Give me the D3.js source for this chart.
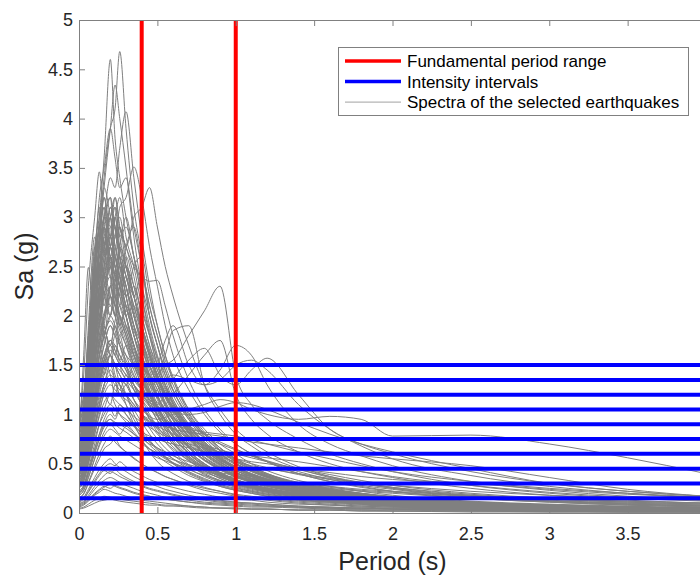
<!DOCTYPE html>
<html>
<head>
<meta charset="utf-8">
<script src="https://cdn.jsdelivr.net/npm/d3@7"></script>
<style>
  html, body { margin: 0; padding: 0; background: #fff; }
  #container { width: 700px; height: 577px; overflow: hidden; }
  text { font-family: "Liberation Sans", Arial, Helvetica, sans-serif; }
</style>
</head>
<body>
<div id="container"></div>
<script>
"use strict";

// periods (s) shared by every spectrum
const periods = [0, 0.03, 0.06, 0.1, 0.13, 0.16, 0.2, 0.23, 0.26, 0.3, 0.35, 0.4, 0.45, 0.5, 0.55,
  0.6, 0.7, 0.8, 0.9, 1.0, 1.1, 1.2, 1.4, 1.6, 1.8, 2.0, 2.5, 3.0, 3.5, 4.0];

// spectra with the highest peaks (Sa in g)
const spectraHigh = [
  [0.9, 1.1, 1.6, 2.4, 3.0, 3.6, 4.6, 3.8, 3.4, 3.0, 2.6, 2.2, 1.8, 1.5, 1.3, 1.1, 0.85, 0.7, 0.6, 0.5, 0.42, 0.36, 0.28, 0.22, 0.18, 0.15, 0.1, 0.07, 0.05, 0.04],
  [1.0, 1.2, 1.7, 2.5, 2.9, 3.4, 3.9, 4.1, 4.68, 3.9, 3.1, 2.6, 2.0, 1.7, 1.4, 1.2, 0.95, 0.8, 0.66, 0.55, 0.47, 0.4, 0.3, 0.24, 0.2, 0.16, 0.11, 0.08, 0.06, 0.05],
  [0.8, 1.0, 1.5, 2.2, 2.8, 3.3, 3.9, 4.34, 4.0, 3.5, 2.8, 2.3, 1.9, 1.6, 1.35, 1.15, 0.9, 0.72, 0.6, 0.5, 0.43, 0.37, 0.29, 0.23, 0.19, 0.16, 0.11, 0.08, 0.06, 0.05],
  [0.85, 1.0, 1.4, 2.0, 2.6, 3.0, 3.4, 3.3, 3.7, 4.07, 3.4, 2.8, 2.3, 1.9, 1.6, 1.35, 1.05, 0.85, 0.7, 0.6, 0.5, 0.43, 0.33, 0.27, 0.22, 0.18, 0.12, 0.09, 0.07, 0.05],
  [0.75, 0.9, 1.3, 1.9, 2.3, 2.7, 3.0, 2.8, 3.1, 3.2, 3.51, 3.2, 2.7, 2.3, 1.9, 1.6, 1.25, 1.0, 0.82, 0.7, 0.6, 0.52, 0.4, 0.32, 0.27, 0.22, 0.15, 0.11, 0.08, 0.06],
  [0.9, 1.4, 2.3, 3.0, 3.46, 2.9, 2.6, 2.4, 2.2, 2.0, 1.7, 1.4, 1.2, 1.0, 0.85, 0.72, 0.55, 0.45, 0.37, 0.3, 0.26, 0.22, 0.17, 0.14, 0.11, 0.09, 0.06, 0.04, 0.03, 0.03],
  [0.7, 0.85, 1.2, 1.7, 2.1, 2.5, 2.8, 2.6, 2.9, 2.7, 3.0, 3.1, 3.3, 2.9, 2.5, 2.2, 1.7, 1.3, 1.05, 0.85, 0.72, 0.62, 0.47, 0.37, 0.3, 0.25, 0.17, 0.12, 0.09, 0.07],
  [0.7, 1.6, 2.49, 1.9, 2.1, 1.8, 1.6, 1.5, 1.3, 1.1, 0.9, 0.75, 0.62, 0.52, 0.45, 0.4, 0.32, 0.26, 0.22, 0.18, 0.16, 0.14, 0.11, 0.09, 0.07, 0.06, 0.04, 0.03, 0.02, 0.02],
  [0.95, 1.2, 1.8, 2.6, 3.2, 3.5, 3.9, 3.6, 3.3, 3.4, 2.9, 2.5, 2.1, 1.8, 1.5, 1.3, 1.0, 0.8, 0.66, 0.55, 0.47, 0.4, 0.31, 0.25, 0.2, 0.17, 0.11, 0.08, 0.06, 0.05]
];

// spectra with peaks of about 2 to 3.3 g
const spectraMid = [
  [0.6, 0.8, 1.3, 2.1, 2.7, 3.2, 2.8, 3.0, 2.6, 2.3, 1.9, 1.6, 1.35, 1.15, 0.98, 0.85, 0.66, 0.53, 0.44, 0.37, 0.32, 0.27, 0.21, 0.17, 0.14, 0.12, 0.08, 0.06, 0.04, 0.03],
  [0.55, 0.7, 1.1, 1.7, 2.2, 2.6, 3.1, 2.9, 2.7, 2.5, 2.2, 1.9, 1.6, 1.4, 1.2, 1.05, 0.82, 0.66, 0.55, 0.46, 0.39, 0.34, 0.26, 0.21, 0.17, 0.14, 0.1, 0.07, 0.05, 0.04],
  [0.7, 0.9, 1.5, 2.3, 2.9, 2.6, 2.8, 3.2, 2.9, 2.7, 2.4, 2.0, 1.7, 1.45, 1.25, 1.1, 0.85, 0.68, 0.56, 0.47, 0.4, 0.35, 0.27, 0.21, 0.17, 0.14, 0.1, 0.07, 0.05, 0.04],
  [0.5, 0.65, 1.0, 1.6, 2.0, 2.4, 2.7, 3.0, 3.2, 2.8, 2.5, 2.1, 1.8, 1.5, 1.3, 1.12, 0.88, 0.71, 0.58, 0.49, 0.42, 0.36, 0.28, 0.22, 0.18, 0.15, 0.1, 0.07, 0.05, 0.04],
  [0.65, 0.85, 1.4, 2.5, 3.1, 2.7, 2.4, 2.6, 2.3, 2.0, 1.7, 1.4, 1.2, 1.0, 0.88, 0.77, 0.6, 0.48, 0.4, 0.33, 0.28, 0.24, 0.19, 0.15, 0.12, 0.1, 0.07, 0.05, 0.04, 0.03],
  [0.45, 0.6, 0.9, 1.4, 1.8, 2.2, 2.5, 2.3, 2.7, 2.9, 2.6, 2.3, 2.0, 1.7, 1.45, 1.25, 0.95, 0.75, 0.6, 0.5, 0.43, 0.37, 0.29, 0.23, 0.19, 0.16, 0.11, 0.08, 0.06, 0.05],
  [0.6, 0.8, 1.2, 2.0, 2.4, 2.9, 2.6, 2.4, 2.5, 2.2, 1.8, 1.5, 1.25, 1.05, 0.9, 0.78, 0.6, 0.48, 0.39, 0.32, 0.27, 0.23, 0.18, 0.14, 0.11, 0.09, 0.06, 0.05, 0.04, 0.03],
  [0.5, 0.7, 1.2, 1.9, 2.6, 2.4, 2.2, 2.7, 2.4, 2.1, 1.8, 1.55, 1.3, 1.1, 0.95, 0.82, 0.63, 0.5, 0.41, 0.34, 0.29, 0.25, 0.19, 0.15, 0.12, 0.1, 0.07, 0.05, 0.04, 0.03],
  [0.4, 0.55, 0.85, 1.3, 1.7, 2.0, 2.3, 2.6, 2.4, 2.2, 2.3, 2.0, 1.7, 1.5, 1.3, 1.15, 0.9, 0.72, 0.6, 0.5, 0.43, 0.37, 0.29, 0.23, 0.19, 0.16, 0.11, 0.08, 0.06, 0.05],
  [0.55, 0.75, 1.3, 2.2, 2.0, 2.5, 2.8, 2.5, 2.2, 2.4, 2.0, 1.7, 1.4, 1.2, 1.02, 0.88, 0.68, 0.54, 0.44, 0.37, 0.31, 0.27, 0.21, 0.17, 0.14, 0.11, 0.08, 0.06, 0.04, 0.03],
  [0.48, 0.62, 1.0, 1.5, 1.9, 2.3, 2.1, 2.4, 2.7, 2.5, 2.2, 2.4, 2.0, 1.7, 1.45, 1.25, 0.97, 0.77, 0.63, 0.52, 0.45, 0.39, 0.3, 0.24, 0.2, 0.16, 0.11, 0.08, 0.06, 0.05],
  [0.42, 0.55, 0.9, 1.5, 2.0, 1.8, 2.2, 2.0, 1.8, 1.9, 1.6, 1.35, 1.15, 0.98, 0.85, 0.74, 0.58, 0.46, 0.38, 0.32, 0.27, 0.23, 0.18, 0.14, 0.12, 0.1, 0.07, 0.05, 0.04, 0.03],
  [0.62, 0.8, 1.3, 2.1, 2.5, 2.3, 2.6, 2.2, 2.0, 1.8, 1.5, 1.3, 1.1, 0.94, 0.8, 0.7, 0.54, 0.43, 0.35, 0.29, 0.25, 0.21, 0.16, 0.13, 0.1, 0.08, 0.06, 0.04, 0.03, 0.02],
  [0.38, 0.5, 0.8, 1.2, 1.6, 1.9, 2.2, 2.0, 2.3, 2.1, 1.8, 1.6, 1.4, 1.25, 1.1, 0.98, 0.78, 0.62, 0.51, 0.43, 0.37, 0.32, 0.25, 0.2, 0.16, 0.13, 0.09, 0.07, 0.05, 0.04],
  [0.52, 0.7, 1.1, 1.8, 2.3, 2.8, 2.5, 2.3, 2.0, 1.8, 1.6, 1.35, 1.2, 1.05, 0.93, 0.83, 0.66, 0.54, 0.45, 0.38, 0.33, 0.29, 0.23, 0.18, 0.15, 0.12, 0.08, 0.06, 0.05, 0.04],
  [0.35, 0.45, 0.75, 1.2, 1.5, 1.8, 2.0, 2.2, 1.9, 2.1, 1.9, 1.7, 1.5, 1.35, 1.2, 1.08, 0.88, 0.72, 0.6, 0.5, 0.43, 0.37, 0.29, 0.23, 0.19, 0.16, 0.11, 0.08, 0.06, 0.05],
  [0.58, 0.78, 1.25, 1.9, 2.2, 2.0, 2.3, 2.1, 2.4, 2.0, 1.7, 1.5, 1.4, 1.3, 1.18, 1.05, 0.82, 0.65, 0.52, 0.43, 0.37, 0.32, 0.25, 0.2, 0.16, 0.13, 0.09, 0.07, 0.05, 0.04],
  [0.44, 0.6, 1.0, 1.7, 2.1, 1.9, 1.7, 1.9, 1.7, 1.5, 1.3, 1.1, 0.95, 0.82, 0.72, 0.63, 0.49, 0.39, 0.32, 0.27, 0.23, 0.2, 0.15, 0.12, 0.1, 0.08, 0.06, 0.04, 0.03, 0.02],
  [0.66, 0.9, 1.6, 2.7, 2.5, 2.9, 2.4, 2.1, 1.9, 1.7, 1.45, 1.25, 1.08, 0.94, 0.82, 0.72, 0.56, 0.45, 0.37, 0.31, 0.26, 0.22, 0.17, 0.14, 0.11, 0.09, 0.06, 0.05, 0.04, 0.03],
  [0.5, 0.65, 1.05, 1.6, 1.9, 2.3, 2.6, 2.4, 2.1, 2.6, 2.3, 1.9, 1.6, 1.38, 1.2, 1.05, 0.82, 0.66, 0.54, 0.45, 0.39, 0.34, 0.26, 0.21, 0.17, 0.14, 0.1, 0.07, 0.05, 0.04],
  [0.6, 0.75, 1.2, 1.8, 2.3, 2.7, 3.0, 3.2, 2.9, 2.7, 2.5, 2.4, 2.35, 2.36, 2.1, 1.8, 1.35, 1.05, 0.85, 0.7, 0.6, 0.52, 0.4, 0.32, 0.26, 0.22, 0.15, 0.11, 0.08, 0.06],
  [0.72, 0.95, 1.5, 2.4, 2.8, 3.1, 2.7, 2.9, 2.5, 2.3, 2.0, 1.75, 1.5, 1.3, 1.12, 0.98, 0.76, 0.6, 0.49, 0.41, 0.35, 0.3, 0.23, 0.18, 0.15, 0.12, 0.08, 0.06, 0.05, 0.04],
  [0.8, 1.0, 1.6, 2.6, 2.9, 3.1, 2.8, 3.0, 2.7, 2.4, 2.1, 1.8, 1.5, 1.3, 1.1, 0.95, 0.74, 0.59, 0.48, 0.4, 0.34, 0.29, 0.22, 0.17, 0.14, 0.11, 0.07, 0.05, 0.04, 0.03],
  [0.75, 0.95, 1.4, 2.2, 2.7, 3.0, 3.2, 2.7, 2.9, 2.5, 2.2, 1.9, 1.65, 1.4, 1.2, 1.05, 0.8, 0.64, 0.52, 0.43, 0.36, 0.31, 0.24, 0.19, 0.15, 0.12, 0.08, 0.06, 0.04, 0.03],
  [0.68, 0.88, 1.35, 2.0, 2.5, 2.8, 3.0, 3.1, 2.8, 3.0, 2.6, 2.2, 1.85, 1.55, 1.3, 1.12, 0.86, 0.68, 0.55, 0.45, 0.38, 0.33, 0.25, 0.2, 0.16, 0.13, 0.09, 0.06, 0.05, 0.04],
  [0.58, 0.75, 1.2, 1.8, 2.2, 2.5, 2.9, 2.6, 2.4, 2.7, 2.9, 2.5, 2.1, 1.8, 1.55, 1.35, 1.02, 0.8, 0.64, 0.53, 0.45, 0.38, 0.29, 0.23, 0.19, 0.15, 0.1, 0.07, 0.05, 0.04],
  [0.85, 1.1, 1.9, 2.8, 2.6, 3.0, 2.7, 2.5, 2.3, 2.0, 1.7, 1.45, 1.25, 1.08, 0.94, 0.82, 0.63, 0.5, 0.41, 0.34, 0.29, 0.25, 0.19, 0.15, 0.12, 0.1, 0.07, 0.05, 0.04, 0.03],
  [0.46, 0.6, 0.95, 1.5, 1.9, 2.2, 2.4, 2.2, 2.5, 2.3, 2.0, 1.75, 1.55, 1.35, 1.18, 1.04, 0.82, 0.66, 0.54, 0.45, 0.38, 0.33, 0.26, 0.2, 0.17, 0.14, 0.09, 0.07, 0.05, 0.04],
  [0.63, 0.82, 1.3, 2.1, 2.4, 2.7, 2.5, 2.8, 2.6, 2.2, 1.9, 1.6, 1.4, 1.2, 1.04, 0.9, 0.7, 0.56, 0.46, 0.38, 0.32, 0.28, 0.21, 0.17, 0.14, 0.11, 0.08, 0.05, 0.04, 0.03],
  [0.54, 0.7, 1.15, 1.8, 2.3, 2.1, 2.6, 2.4, 2.2, 2.0, 2.1, 1.85, 1.6, 1.4, 1.22, 1.07, 0.84, 0.67, 0.55, 0.46, 0.39, 0.34, 0.26, 0.21, 0.17, 0.14, 0.09, 0.07, 0.05, 0.04],
  [0.7, 0.9, 1.45, 2.3, 2.6, 2.4, 2.7, 2.5, 2.3, 2.1, 1.8, 1.55, 1.35, 1.17, 1.02, 0.9, 0.7, 0.56, 0.46, 0.38, 0.33, 0.28, 0.22, 0.17, 0.14, 0.11, 0.08, 0.06, 0.04, 0.03],
  [0.6, 0.78, 1.25, 1.9, 2.3, 2.6, 2.8, 2.6, 2.4, 2.2, 2.5, 2.6, 2.2, 1.9, 1.6, 1.38, 1.05, 0.82, 0.66, 0.54, 0.46, 0.39, 0.3, 0.24, 0.19, 0.16, 0.11, 0.08, 0.06, 0.05],
  [0.78, 1.0, 1.55, 2.4, 2.9, 2.7, 3.1, 2.9, 2.6, 2.3, 2.0, 1.7, 1.45, 1.25, 1.08, 0.94, 0.72, 0.57, 0.47, 0.39, 0.33, 0.28, 0.21, 0.17, 0.14, 0.11, 0.07, 0.05, 0.04, 0.03],
  [0.5, 0.66, 1.05, 1.7, 2.1, 2.4, 2.2, 2.0, 2.3, 2.5, 2.2, 1.9, 1.65, 1.45, 1.27, 1.12, 0.88, 0.7, 0.57, 0.47, 0.4, 0.34, 0.26, 0.21, 0.17, 0.14, 0.09, 0.07, 0.05, 0.04],
  [0.64, 0.85, 1.4, 2.2, 2.0, 2.3, 2.5, 2.2, 2.0, 1.8, 1.55, 1.35, 1.18, 1.03, 0.9, 0.79, 0.61, 0.49, 0.4, 0.33, 0.28, 0.24, 0.18, 0.14, 0.12, 0.09, 0.06, 0.05, 0.03, 0.03],
  [0.9, 1.15, 1.8, 2.7, 3.0, 3.3, 3.0, 2.7, 2.5, 2.2, 1.9, 1.6, 1.38, 1.18, 1.02, 0.89, 0.68, 0.54, 0.44, 0.36, 0.31, 0.26, 0.2, 0.16, 0.13, 0.1, 0.07, 0.05, 0.04, 0.03],
  [0.43, 0.56, 0.9, 1.4, 1.75, 2.0, 2.3, 2.1, 1.9, 2.05, 1.85, 1.65, 1.48, 1.33, 1.2, 1.08, 0.86, 0.69, 0.56, 0.46, 0.39, 0.33, 0.25, 0.2, 0.16, 0.13, 0.09, 0.06, 0.05, 0.04],
  [0.57, 0.74, 1.2, 1.95, 2.4, 2.2, 2.0, 2.3, 2.1, 1.9, 1.65, 1.42, 1.23, 1.07, 0.93, 0.82, 0.63, 0.5, 0.41, 0.34, 0.29, 0.25, 0.19, 0.15, 0.12, 0.1, 0.07, 0.05, 0.04, 0.03],
  [0.66, 0.86, 1.35, 2.1, 2.5, 2.9, 3.2, 2.9, 2.6, 2.4, 2.1, 1.85, 1.6, 1.4, 1.22, 1.07, 0.83, 0.66, 0.54, 0.45, 0.38, 0.32, 0.25, 0.2, 0.16, 0.13, 0.09, 0.06, 0.05, 0.04],
  [0.4, 0.52, 0.82, 1.3, 1.6, 1.85, 1.7, 1.95, 2.1, 1.9, 1.7, 1.5, 1.33, 1.18, 1.05, 0.94, 0.75, 0.6, 0.49, 0.41, 0.35, 0.3, 0.23, 0.18, 0.15, 0.12, 0.08, 0.06, 0.05, 0.04],
  [0.74, 0.96, 1.5, 2.3, 2.7, 3.0, 2.6, 2.8, 3.0, 2.6, 2.2, 1.9, 1.62, 1.4, 1.2, 1.05, 0.81, 0.64, 0.52, 0.43, 0.37, 0.31, 0.24, 0.19, 0.15, 0.12, 0.08, 0.06, 0.04, 0.03],
  [0.52, 0.68, 1.1, 1.75, 2.15, 2.45, 2.7, 2.5, 2.3, 2.5, 2.3, 2.05, 1.8, 1.58, 1.4, 1.24, 0.98, 0.78, 0.63, 0.52, 0.44, 0.38, 0.29, 0.23, 0.19, 0.16, 0.1, 0.07, 0.05, 0.04],
  [0.47, 0.62, 1.0, 1.6, 1.95, 2.25, 2.0, 2.2, 1.95, 1.75, 1.5, 1.3, 1.13, 0.99, 0.87, 0.77, 0.6, 0.48, 0.39, 0.33, 0.28, 0.24, 0.18, 0.14, 0.12, 0.09, 0.06, 0.05, 0.03, 0.03],
  [0.82, 1.05, 1.65, 2.5, 2.8, 3.2, 2.9, 3.1, 2.8, 2.5, 2.2, 1.85, 1.58, 1.36, 1.17, 1.02, 0.78, 0.62, 0.5, 0.41, 0.35, 0.3, 0.23, 0.18, 0.14, 0.12, 0.08, 0.06, 0.04, 0.03],
  [0.61, 0.8, 1.3, 2.05, 2.45, 2.75, 2.55, 2.35, 2.6, 2.4, 2.05, 1.75, 1.5, 1.3, 1.13, 0.99, 0.77, 0.61, 0.5, 0.41, 0.35, 0.3, 0.23, 0.18, 0.15, 0.12, 0.08, 0.06, 0.04, 0.03]
];

// weaker records
const spectraLow = [
  [0.3, 0.4, 0.65, 1.0, 1.3, 1.5, 1.7, 1.6, 1.8, 1.5, 1.3, 1.15, 1.0, 0.88, 0.78, 0.7, 0.56, 0.46, 0.38, 0.32, 0.28, 0.24, 0.19, 0.15, 0.12, 0.1, 0.07, 0.05, 0.04, 0.03],
  [0.25, 0.32, 0.5, 0.8, 1.0, 1.2, 1.1, 1.3, 1.2, 1.1, 0.95, 0.82, 0.72, 0.64, 0.57, 0.51, 0.42, 0.35, 0.29, 0.25, 0.22, 0.19, 0.15, 0.12, 0.1, 0.08, 0.06, 0.04, 0.03, 0.02],
  [0.2, 0.26, 0.4, 0.6, 0.75, 0.9, 1.0, 0.95, 1.05, 1.0, 0.9, 0.8, 0.72, 0.66, 0.6, 0.55, 0.47, 0.41, 0.36, 0.32, 0.28, 0.25, 0.2, 0.17, 0.14, 0.12, 0.09, 0.07, 0.05, 0.04],
  [0.35, 0.45, 0.75, 1.2, 1.5, 1.4, 1.6, 1.4, 1.3, 1.2, 1.05, 0.92, 0.8, 0.7, 0.62, 0.55, 0.45, 0.37, 0.31, 0.26, 0.22, 0.19, 0.15, 0.12, 0.1, 0.08, 0.06, 0.04, 0.03, 0.02],
  [0.15, 0.19, 0.3, 0.45, 0.55, 0.65, 0.7, 0.75, 0.68, 0.62, 0.55, 0.5, 0.45, 0.41, 0.37, 0.34, 0.29, 0.25, 0.22, 0.19, 0.17, 0.15, 0.12, 0.1, 0.08, 0.07, 0.05, 0.04, 0.03, 0.02],
  [0.1, 0.12, 0.18, 0.27, 0.33, 0.38, 0.42, 0.4, 0.37, 0.34, 0.3, 0.27, 0.24, 0.22, 0.2, 0.18, 0.15, 0.13, 0.11, 0.1, 0.09, 0.08, 0.06, 0.05, 0.04, 0.04, 0.03, 0.02, 0.02, 0.01],
  [0.05, 0.06, 0.09, 0.13, 0.15, 0.17, 0.16, 0.15, 0.14, 0.13, 0.12, 0.11, 0.1, 0.09, 0.08, 0.08, 0.07, 0.06, 0.05, 0.05, 0.04, 0.04, 0.03, 0.03, 0.02, 0.02, 0.02, 0.01, 0.01, 0.01],
  [0.28, 0.36, 0.55, 0.85, 1.1, 1.3, 1.5, 1.35, 1.2, 1.3, 1.15, 1.0, 0.9, 0.8, 0.72, 0.65, 0.53, 0.44, 0.37, 0.31, 0.27, 0.23, 0.18, 0.14, 0.12, 0.1, 0.07, 0.05, 0.04, 0.03],
  [0.4, 0.52, 0.85, 1.4, 1.7, 1.9, 1.6, 1.8, 1.5, 1.35, 1.15, 1.0, 0.86, 0.75, 0.66, 0.59, 0.48, 0.4, 0.33, 0.28, 0.24, 0.21, 0.16, 0.13, 0.11, 0.09, 0.06, 0.05, 0.04, 0.03],
  [0.18, 0.23, 0.36, 0.55, 0.7, 0.82, 0.9, 0.85, 0.8, 0.88, 0.8, 0.72, 0.65, 0.6, 0.55, 0.51, 0.44, 0.38, 0.33, 0.29, 0.26, 0.23, 0.19, 0.16, 0.13, 0.11, 0.08, 0.06, 0.05, 0.04],
  [0.08, 0.1, 0.14, 0.2, 0.24, 0.27, 0.25, 0.28, 0.26, 0.24, 0.21, 0.19, 0.17, 0.15, 0.14, 0.13, 0.11, 0.09, 0.08, 0.07, 0.06, 0.06, 0.05, 0.04, 0.03, 0.03, 0.02, 0.02, 0.01, 0.01],
  [0.22, 0.28, 0.45, 0.7, 0.9, 1.05, 1.2, 1.1, 1.0, 0.92, 0.82, 0.73, 0.65, 0.58, 0.52, 0.47, 0.38, 0.32, 0.27, 0.23, 0.2, 0.17, 0.13, 0.11, 0.09, 0.07, 0.05, 0.04, 0.03, 0.02],
  [0.32, 0.42, 0.68, 1.05, 1.3, 1.55, 1.4, 1.2, 1.35, 1.2, 1.0, 0.85, 0.74, 0.65, 0.57, 0.5, 0.4, 0.33, 0.27, 0.23, 0.2, 0.17, 0.13, 0.11, 0.09, 0.07, 0.05, 0.04, 0.03, 0.02],
  [0.12, 0.15, 0.22, 0.33, 0.4, 0.46, 0.5, 0.48, 0.52, 0.47, 0.42, 0.38, 0.34, 0.31, 0.28, 0.26, 0.22, 0.19, 0.16, 0.14, 0.13, 0.11, 0.09, 0.08, 0.06, 0.05, 0.04, 0.03, 0.02, 0.02],
  [0.36, 0.47, 0.75, 1.15, 1.45, 1.7, 1.9, 1.8, 2.0, 1.85, 1.6, 1.4, 1.22, 1.08, 0.95, 0.85, 0.67, 0.54, 0.45, 0.37, 0.32, 0.28, 0.21, 0.17, 0.14, 0.11, 0.08, 0.06, 0.04, 0.03],
  [0.33, 0.43, 0.7, 1.1, 1.4, 1.6, 1.5, 1.7, 1.6, 1.45, 1.25, 1.1, 0.96, 0.85, 0.75, 0.67, 0.53, 0.43, 0.35, 0.29, 0.25, 0.22, 0.17, 0.13, 0.11, 0.09, 0.06, 0.04, 0.03, 0.03],
  [0.27, 0.35, 0.55, 0.88, 1.1, 1.3, 1.45, 1.35, 1.25, 1.4, 1.25, 1.1, 0.98, 0.87, 0.78, 0.7, 0.57, 0.47, 0.39, 0.33, 0.29, 0.25, 0.2, 0.16, 0.13, 0.11, 0.08, 0.06, 0.04, 0.03],
  [0.3, 0.39, 0.62, 0.95, 1.2, 1.4, 1.6, 1.5, 1.4, 1.3, 1.5, 1.35, 1.2, 1.06, 0.94, 0.84, 0.67, 0.54, 0.45, 0.38, 0.32, 0.28, 0.22, 0.17, 0.14, 0.12, 0.08, 0.06, 0.04, 0.04],
  [0.2, 0.26, 0.42, 0.65, 0.8, 0.95, 1.05, 0.98, 1.1, 1.0, 0.88, 0.78, 0.69, 0.62, 0.56, 0.5, 0.41, 0.34, 0.28, 0.24, 0.21, 0.18, 0.14, 0.11, 0.09, 0.07, 0.05, 0.04, 0.03, 0.02],
  [0.15, 0.2, 0.31, 0.48, 0.6, 0.7, 0.78, 0.72, 0.67, 0.62, 0.56, 0.5, 0.45, 0.41, 0.37, 0.34, 0.28, 0.23, 0.2, 0.17, 0.15, 0.13, 0.1, 0.08, 0.07, 0.06, 0.04, 0.03, 0.02, 0.02],
  [0.35, 0.46, 0.72, 1.1, 1.35, 1.55, 1.75, 1.65, 1.55, 1.7, 1.6, 1.45, 1.3, 1.17, 1.05, 0.95, 0.78, 0.64, 0.53, 0.45, 0.39, 0.34, 0.27, 0.22, 0.18, 0.15, 0.1, 0.08, 0.06, 0.05],
  [0.06, 0.08, 0.12, 0.18, 0.21, 0.24, 0.22, 0.2, 0.19, 0.17, 0.15, 0.13, 0.12, 0.11, 0.1, 0.09, 0.07, 0.06, 0.05, 0.05, 0.04, 0.04, 0.03, 0.03, 0.02, 0.02, 0.01, 0.01, 0.01, 0.01],
  [0.09, 0.11, 0.16, 0.24, 0.29, 0.33, 0.36, 0.34, 0.31, 0.28, 0.25, 0.22, 0.2, 0.18, 0.16, 0.15, 0.13, 0.11, 0.1, 0.09, 0.08, 0.07, 0.06, 0.05, 0.04, 0.04, 0.03, 0.02, 0.02, 0.01],
  [0.04, 0.05, 0.07, 0.1, 0.12, 0.13, 0.14, 0.13, 0.12, 0.11, 0.1, 0.09, 0.08, 0.08, 0.07, 0.07, 0.06, 0.05, 0.05, 0.04, 0.04, 0.04, 0.03, 0.03, 0.03, 0.02, 0.02, 0.02, 0.01, 0.01],
  [0.13, 0.16, 0.24, 0.36, 0.44, 0.5, 0.55, 0.5, 0.46, 0.42, 0.37, 0.33, 0.3, 0.27, 0.24, 0.22, 0.18, 0.15, 0.13, 0.11, 0.1, 0.09, 0.07, 0.06, 0.05, 0.04, 0.03, 0.02, 0.02, 0.02],
  [0.07, 0.09, 0.13, 0.19, 0.23, 0.26, 0.29, 0.27, 0.25, 0.23, 0.2, 0.18, 0.17, 0.15, 0.14, 0.13, 0.11, 0.1, 0.09, 0.08, 0.07, 0.07, 0.06, 0.05, 0.05, 0.04, 0.03, 0.03, 0.02, 0.02],
  [0.11, 0.14, 0.21, 0.31, 0.38, 0.43, 0.4, 0.44, 0.4, 0.36, 0.32, 0.28, 0.25, 0.23, 0.21, 0.19, 0.16, 0.14, 0.12, 0.11, 0.1, 0.09, 0.07, 0.06, 0.05, 0.05, 0.04, 0.03, 0.02, 0.02]
];

// records with long-period content
const spectraLong = [
  [0.45, 0.55, 0.8, 1.2, 1.5, 1.7, 1.9, 1.8, 1.7, 1.6, 1.5, 1.4, 1.35, 1.4, 1.5, 1.55, 1.8, 2.05, 2.3, 1.4, 1.1, 0.95, 0.75, 0.6, 0.5, 0.42, 0.28, 0.2, 0.15, 0.12],
  [0.4, 0.5, 0.75, 1.1, 1.35, 1.55, 1.7, 1.6, 1.5, 1.4, 1.3, 1.2, 1.1, 1.05, 1.1, 1.2, 1.4, 1.6, 1.75, 1.2, 0.95, 0.8, 0.62, 0.5, 0.42, 0.36, 0.25, 0.18, 0.13, 0.1],
  [0.5, 0.62, 0.95, 1.5, 1.8, 2.0, 2.2, 2.1, 2.0, 1.85, 1.6, 1.4, 1.3, 1.35, 1.6, 1.85, 1.9, 1.3, 1.0, 0.8, 0.68, 0.58, 0.45, 0.36, 0.3, 0.25, 0.17, 0.12, 0.09, 0.07],
  [0.55, 0.7, 1.1, 1.7, 2.1, 2.4, 2.6, 2.5, 2.3, 2.0, 1.7, 1.5, 1.4, 1.5, 1.75, 1.9, 1.5, 1.3, 1.45, 1.7, 1.6, 1.3, 0.9, 0.7, 0.58, 0.48, 0.32, 0.23, 0.17, 0.13],
  [0.42, 0.55, 0.85, 1.3, 1.6, 1.8, 2.0, 1.9, 1.75, 1.6, 1.4, 1.25, 1.15, 1.1, 1.2, 1.35, 1.55, 1.67, 1.4, 1.3, 1.45, 1.57, 1.2, 0.85, 0.7, 0.6, 0.42, 0.3, 0.22, 0.17],
  [0.35, 0.45, 0.7, 1.05, 1.3, 1.5, 1.6, 1.5, 1.4, 1.3, 1.15, 1.05, 0.98, 0.95, 0.97, 1.0, 1.05, 1.1, 1.15, 1.12, 1.05, 1.0, 0.95, 0.98, 0.95, 0.78, 0.79, 0.7, 0.56, 0.4],
  [0.3, 0.38, 0.6, 0.9, 1.1, 1.25, 1.35, 1.3, 1.25, 1.2, 1.1, 1.0, 0.95, 0.9, 0.88, 0.85, 0.82, 0.8, 0.78, 0.75, 0.72, 0.7, 0.66, 0.62, 0.58, 0.55, 0.48, 0.36, 0.24, 0.17],
  [0.25, 0.32, 0.5, 0.75, 0.9, 1.0, 1.1, 1.05, 1.0, 0.95, 0.88, 0.82, 0.78, 0.75, 0.72, 0.7, 0.66, 0.62, 0.58, 0.55, 0.52, 0.5, 0.45, 0.41, 0.37, 0.34, 0.3, 0.24, 0.19, 0.16],
  [0.4, 0.5, 0.8, 1.2, 1.45, 1.6, 1.75, 1.7, 1.6, 1.5, 1.35, 1.25, 1.2, 1.25, 1.35, 1.4, 1.35, 1.3, 1.35, 1.5, 1.55, 1.45, 1.1, 0.85, 0.68, 0.55, 0.38, 0.27, 0.2, 0.15],
  [0.38, 0.48, 0.75, 1.1, 1.35, 1.5, 1.65, 1.6, 1.5, 1.4, 1.3, 1.2, 1.12, 1.08, 1.05, 1.02, 1.0, 1.02, 1.08, 1.12, 1.1, 1.05, 0.92, 0.8, 0.7, 0.62, 0.45, 0.3, 0.22, 0.17],
  [0.3, 0.4, 0.6, 0.95, 1.15, 1.3, 1.4, 1.35, 1.3, 1.2, 1.1, 1.0, 0.92, 0.86, 0.8, 0.75, 0.68, 0.62, 0.57, 0.52, 0.48, 0.45, 0.4, 0.35, 0.31, 0.28, 0.22, 0.18, 0.15, 0.13],
  [0.22, 0.28, 0.42, 0.65, 0.8, 0.9, 0.95, 0.92, 0.9, 0.86, 0.8, 0.75, 0.7, 0.66, 0.62, 0.58, 0.52, 0.47, 0.43, 0.4, 0.37, 0.34, 0.3, 0.27, 0.24, 0.22, 0.18, 0.14, 0.11, 0.09],
  [0.33, 0.42, 0.65, 1.0, 1.25, 1.45, 1.6, 1.5, 1.45, 1.35, 1.25, 1.15, 1.05, 0.98, 0.92, 0.86, 0.76, 0.68, 0.61, 0.55, 0.5, 0.46, 0.39, 0.34, 0.3, 0.26, 0.19, 0.14, 0.11, 0.09],
  [0.28, 0.36, 0.56, 0.85, 1.05, 1.2, 1.3, 1.25, 1.2, 1.15, 1.08, 1.0, 0.93, 0.88, 0.84, 0.8, 0.74, 0.69, 0.64, 0.6, 0.56, 0.52, 0.45, 0.39, 0.33, 0.28, 0.2, 0.15, 0.12, 0.1],
  [0.45, 0.58, 0.9, 1.4, 1.7, 1.95, 2.1, 2.0, 1.85, 1.7, 1.5, 1.35, 1.22, 1.12, 1.04, 0.97, 0.86, 0.77, 0.7, 0.64, 0.58, 0.53, 0.44, 0.37, 0.31, 0.26, 0.18, 0.13, 0.1, 0.08],
  [0.26, 0.33, 0.52, 0.8, 0.98, 1.12, 1.2, 1.15, 1.1, 1.05, 0.98, 0.92, 0.87, 0.82, 0.78, 0.75, 0.7, 0.66, 0.62, 0.6, 0.58, 0.56, 0.52, 0.47, 0.42, 0.37, 0.28, 0.21, 0.16, 0.13],
  [0.38, 0.49, 0.76, 1.15, 1.4, 1.6, 1.75, 1.65, 1.55, 1.45, 1.3, 1.18, 1.08, 1.0, 0.95, 0.9, 0.85, 0.82, 0.8, 0.78, 0.74, 0.7, 0.62, 0.55, 0.48, 0.42, 0.32, 0.25, 0.2, 0.16],
  [0.2, 0.26, 0.4, 0.62, 0.76, 0.87, 0.95, 0.9, 0.86, 0.82, 0.76, 0.7, 0.65, 0.61, 0.57, 0.54, 0.49, 0.45, 0.41, 0.38, 0.35, 0.33, 0.29, 0.26, 0.23, 0.21, 0.17, 0.14, 0.12, 0.1],
  [0.42, 0.54, 0.85, 1.3, 1.6, 1.8, 1.95, 1.85, 1.7, 1.55, 1.38, 1.25, 1.15, 1.08, 1.02, 0.96, 0.88, 0.8, 0.72, 0.65, 0.58, 0.52, 0.42, 0.34, 0.28, 0.24, 0.16, 0.12, 0.09, 0.07],
  [0.18, 0.23, 0.36, 0.55, 0.68, 0.78, 0.85, 0.82, 0.78, 0.74, 0.69, 0.64, 0.6, 0.56, 0.53, 0.5, 0.46, 0.42, 0.39, 0.36, 0.34, 0.32, 0.28, 0.25, 0.22, 0.2, 0.15, 0.12, 0.1, 0.08]
];

const fundamentalRange = [0.4, 1.0];
const intensityLevels = [0.15, 0.3, 0.45, 0.6, 0.75, 0.9, 1.05, 1.2, 1.35, 1.5];

const xTicks = [0, 0.5, 1, 1.5, 2, 2.5, 3, 3.5, 4];
const xTickLabels = ["0", "0.5", "1", "1.5", "2", "2.5", "3", "3.5", "4"];
const yTicks = [0, 0.5, 1, 1.5, 2, 2.5, 3, 3.5, 4, 4.5, 5];
const yTickLabels = ["0", "0.5", "1", "1.5", "2", "2.5", "3", "3.5", "4", "4.5", "5"];

const legendItems = [
  { "label": "Fundamental period range", "color": "#ff0000", "width": 3.5 },
  { "label": "Intensity intervals", "color": "#0000ff", "width": 3.5 },
  { "label": "Spectra of the selected earthquakes", "color": "#b4b4b4", "width": 1.2 }
];

const renderChart = () => {
  const width = 700;
  const height = 577;
  const plot = { left: 79, right: 706, top: 20, bottom: 513 };
  const axisColor = "#808080";
  const textColor = "#262626";

  const svg = d3.select("#container")
    .append("svg")
    .attr("width", width)
    .attr("height", height);

  const x = d3.scaleLinear().domain([0, 4]).range([plot.left, plot.right]);
  const y = d3.scaleLinear().domain([0, 5]).range([plot.bottom, plot.top]);

  svg.append("clipPath")
    .attr("id", "plotClip")
    .append("rect")
    .attr("x", plot.left)
    .attr("y", plot.top)
    .attr("width", plot.right - plot.left)
    .attr("height", plot.bottom - plot.top);

  const inner = svg.append("g").attr("clip-path", "url(#plotClip)");

  const allSpectra = [...spectraHigh, ...spectraMid, ...spectraLow, ...spectraLong];

  const line = d3.line()
    .x((d, i) => x(periods[i]))
    .y((d) => y(d))
    .curve(d3.curveMonotoneX);

  inner.selectAll("path.spectrum")
    .data(allSpectra)
    .enter()
    .append("path")
    .attr("class", "spectrum")
    .attr("d", line)
    .style("fill", "none")
    .attr("stroke", "#808080")
    .attr("stroke-width", 1);

  inner.selectAll("line.level")
    .data(intensityLevels)
    .enter()
    .append("line")
    .attr("class", "level")
    .attr("x1", plot.left)
    .attr("x2", plot.right)
    .attr("y1", (d) => y(d))
    .attr("y2", (d) => y(d))
    .attr("stroke", "#0000ff")
    .attr("stroke-width", 4);

  inner.selectAll("line.range")
    .data(fundamentalRange)
    .enter()
    .append("line")
    .attr("class", "range")
    .attr("x1", (d) => x(d))
    .attr("x2", (d) => x(d))
    .attr("y1", plot.top)
    .attr("y2", plot.bottom)
    .attr("stroke", "#ff0000")
    .attr("stroke-width", 4);

  // axes, ticks pointing inwards like MATLAB
  const xAxis = svg.append("g")
    .attr("transform", `translate(0,${plot.bottom})`)
    .call(d3.axisBottom(x).tickValues(xTicks)
      .tickFormat((d, i) => xTickLabels[i])
      .tickSizeInner(-6).tickSizeOuter(0).tickPadding(14));

  const yAxis = svg.append("g")
    .attr("transform", `translate(${plot.left},0)`)
    .call(d3.axisLeft(y).tickValues(yTicks)
      .tickFormat((d, i) => yTickLabels[i])
      .tickSizeInner(-6).tickSizeOuter(0).tickPadding(6));

  const topAxis = svg.append("g")
    .attr("transform", `translate(0,${plot.top})`)
    .call(d3.axisTop(x).tickValues(xTicks).tickFormat("")
      .tickSizeInner(-6).tickSizeOuter(0));

  const rightAxis = svg.append("g")
    .attr("transform", `translate(${plot.right},0)`)
    .call(d3.axisRight(y).tickValues(yTicks).tickFormat("")
      .tickSizeInner(-6).tickSizeOuter(0));

  for (const g of [xAxis, yAxis, topAxis, rightAxis]) {
    g.select(".domain").attr("stroke", axisColor).attr("stroke-width", 1);
    g.selectAll(".tick line").attr("stroke", axisColor);
    g.selectAll(".tick text")
      .attr("fill", textColor)
      .style("font-size", "18px")
      .style("font-family", "'Liberation Sans', Arial, Helvetica, sans-serif");
  }

  svg.append("text")
    .attr("x", (plot.left + plot.right) / 2)
    .attr("y", 570)
    .attr("text-anchor", "middle")
    .attr("fill", textColor)
    .style("font-size", "25px")
    .text("Period (s)");

  svg.append("text")
    .attr("transform", `translate(33,${(plot.top + plot.bottom) / 2}) rotate(-90)`)
    .attr("text-anchor", "middle")
    .attr("fill", textColor)
    .style("font-size", "25px")
    .text("Sa (g)");

  // legend
  const legend = svg.append("g");

  legend.append("rect")
    .attr("x", 338.5)
    .attr("y", 47.5)
    .attr("width", 350)
    .attr("height", 68)
    .attr("fill", "#fff")
    .attr("stroke", axisColor);

  const rows = legend.selectAll("g.row")
    .data(legendItems)
    .enter()
    .append("g")
    .attr("class", "row")
    .attr("transform", (d, i) => `translate(0,${61 + i * 20.6})`);

  rows.append("line")
    .attr("x1", 345)
    .attr("x2", 401)
    .attr("stroke", (d) => d.color)
    .attr("stroke-width", (d) => d.width);

  rows.append("text")
    .attr("x", 407)
    .attr("dy", "0.35em")
    .attr("fill", "#000")
    .style("font-size", "17px")
    .text((d) => d.label);
};

window.onload = renderChart;
</script>
</body>
</html>
